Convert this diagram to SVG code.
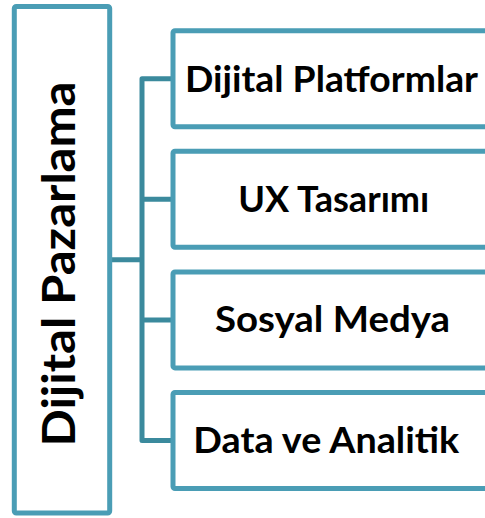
<svg xmlns="http://www.w3.org/2000/svg" width="485" height="518" viewBox="0 0 485 518">
<style>
.box{fill:#ffffff;stroke:#4a9db5;stroke-width:5}
.conn{fill:none;stroke:#3b8a9d;stroke-width:5;stroke-linejoin:round}
.lbl{font-family:Lato,"Open Sans",sans-serif;font-weight:bold;font-size:37px;fill:#000000;text-anchor:middle}
.vlbl{font-family:Lato,"Open Sans",sans-serif;font-weight:bold;font-size:46px;fill:#000000;text-anchor:middle}
</style>
<rect x="0" y="0" width="485" height="518" fill="#ffffff"/>
<g id="connectors">
<path class="conn" d="M109.7,259.7 H142 M173,78.7 H142 V440.5 H173 M142,199.3 H173 M142,319.9 H173"/>
</g>
<g id="node-main">
<rect class="box" x="14.3" y="6.5" width="95.4" height="506.5" rx="2"/>
<text class="vlbl" transform="translate(75,264) rotate(-90)" x="0" y="0" textLength="365" lengthAdjust="spacingAndGlyphs">Dijital Pazarlama</text>
</g>
<g id="node-1">
<rect class="box" x="173" y="30.7" width="320" height="96" rx="2"/>
<text class="lbl" x="331.5" y="91.7" textLength="293" lengthAdjust="spacingAndGlyphs">Dijital Platformlar</text>
</g>
<g id="node-2">
<rect class="box" x="173" y="151.3" width="320" height="96" rx="2"/>
<text class="lbl" x="333.8" y="211.8" textLength="191" lengthAdjust="spacingAndGlyphs">UX Tasarımı</text>
</g>
<g id="node-3">
<rect class="box" x="173" y="271.9" width="320" height="96" rx="2"/>
<text class="lbl" x="332.5" y="331.8" textLength="235" lengthAdjust="spacingAndGlyphs">Sosyal Medya</text>
</g>
<g id="node-4">
<rect class="box" x="173" y="392.5" width="320" height="96" rx="2"/>
<text class="lbl" x="326.3" y="453.2" textLength="266" lengthAdjust="spacingAndGlyphs">Data ve Analitik</text>
</g>
</svg>
